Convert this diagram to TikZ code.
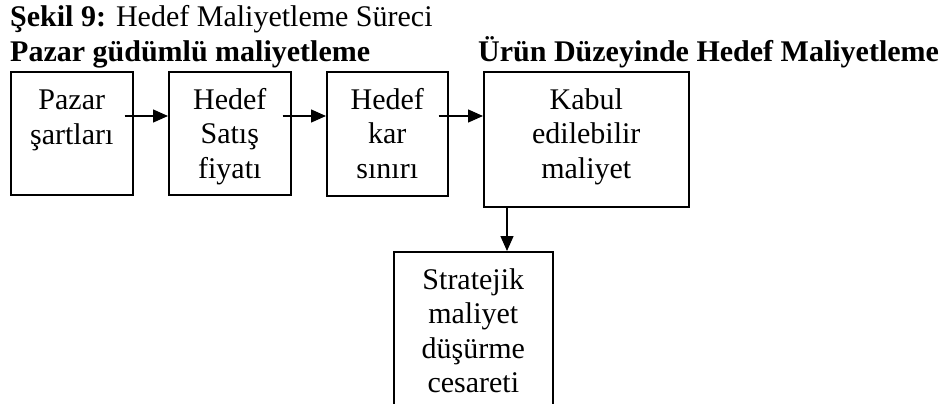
\documentclass[tikz,border=0pt]{standalone}
\usepackage{fontspec}
\setmainfont{Liberation Serif}
\usetikzlibrary{arrows.meta}

\begin{document}
\begin{tikzpicture}[x=1pt, y=-1pt,
  box/.style={draw, line width=1.6pt, inner sep=0pt, anchor=north west},
  lbl/.style={inner sep=0pt, align=center, anchor=north,
    font=\fontsize{30pt}{34.5pt}\selectfont},
  head/.style={inner sep=0pt, anchor=base west,
    font=\fontsize{30pt}{34.5pt}\selectfont},
  arr/.style={line width=1.4pt, -{Triangle[length=15pt, width=13pt]}}]

  \useasboundingbox (0,0) rectangle (942,404);
  \clip (0,0) rectangle (942,404);

  % headings
  \node[head] (title) at (10,27) {\textbf{Şekil 9:} Hedef Maliyetleme Süreci};
  \node[head] (hleft) at (10,62) {\textbf{Pazar güdümlü maliyetleme}};
  \node[head] (hright) at (478,62) {\textbf{Ürün Düzeyinde Hedef Maliyetleme}};

  % boxes
  \node[box, minimum width=122pt, minimum height=123pt] (b1) at (10,71) {};
  \node[box, minimum width=122pt, minimum height=123pt] (b2) at (168,71) {};
  \node[box, minimum width=121pt, minimum height=124pt] (b3) at (326,71) {};
  \node[box, minimum width=205pt, minimum height=135pt] (b4) at (483,71) {};
  \node[box, minimum width=159pt, minimum height=175pt] (b5) at (393,251) {};

  % box texts
  \node[lbl] (t1) at ([yshift=-19pt]b1.north) {Pazar\\şartları};
  \node[lbl] (t2) at ([yshift=-17pt]b2.north) {Hedef\\Satış\\fiyatı};
  \node[lbl] (t3) at ([yshift=-17pt]b3.north) {Hedef\\kar\\sınırı};
  \node[lbl] (t4) at ([yshift=-17pt]b4.north) {Kabul\\edilebilir\\maliyet};
  \node[lbl] (t5) at ([yshift=-17pt]b5.north) {Stratejik\\maliyet\\düşürme\\cesareti};

  % connectors
  \draw[arr] ([shift={(-9pt,-45pt)}]b1.north east) -- ([yshift=-45pt]b2.north west);
  \draw[arr] ([shift={(-9pt,-45pt)}]b2.north east) -- ([yshift=-45pt]b3.north west);
  \draw[arr] ([shift={(-10pt,-45pt)}]b3.north east) -- ([yshift=-45pt]b4.north west);
  \draw[arr] ([xshift=24pt]b4.south west) -- ([xshift=24pt]b4.south west |- b5.north);
\end{tikzpicture}
\end{document}
